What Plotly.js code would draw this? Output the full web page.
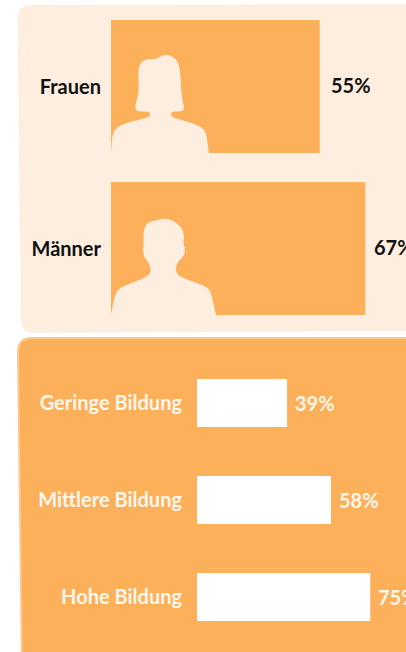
<!DOCTYPE html>
<html><head><meta charset="utf-8">
<script src="https://cdn.plot.ly/plotly-3.0.1.min.js"></script>
<style>html,body{margin:0;padding:0;background:#fff;overflow:hidden}#c{width:406px;height:652px}</style>
</head><body><div id="c"></div>
<script>
var genderCategories = ["Frauen", "Männer"];
var genderValues = [55, 67];
var educationCategories = ["Geringe Bildung", "Mittlere Bildung", "Hohe Bildung"];
var educationValues = [39, 58, 75];

var W = 406, H = 652;
var ORANGE = "#FDB05A", CREAM = "#FEEEDF";
var FONT = "Lato, 'Noto Sans', sans-serif";

function px(x){return (x/W).toFixed(5);}
function py(y){return (1-y/H).toFixed(5);}
function smooth(pts){
  var d = "M"+px(pts[0][0])+","+py(pts[0][1]);
  for(var i=1;i<pts.length-1;i++){
    var mx=(pts[i][0]+pts[i+1][0])/2, my=(pts[i][1]+pts[i+1][1])/2;
    if(i===pts.length-2){mx=pts[i+1][0];my=pts[i+1][1];}
    d+=" Q"+px(pts[i][0])+","+py(pts[i][1])+" "+px(mx)+","+py(my);
  }
  return d+" Z";
}
function raw(s){
  return s.replace(/(-?[\d.]+) (-?[\d.]+)/g,function(_,a,b){return px(+a)+","+py(+b);});
}
var womanOutline=[[111,153],[112,138],[114,130],[122,124],[148,117.5],[150,116],[150,111.5],[137,111.5],[135,108],[136,103],[139,92],[138,72],[140,63],[147,58.5],[155,60],[163,54.5],[173,56],[180,65],[181,90],[183,103],[184.5,109],[181,111.5],[171,111.5],[171,116],[173,117.5],[198,125],[205,130],[207,138],[209,153]];
var manOutline=[[111,315],[114,298],[118,289],[124,286],[147,277],[151,272],[150,266],[147,260],[144,257],[142.5,248],[144,245],[143,234],[146,223],[155,220.5],[166,218],[178,223],[184.5,233],[183,245],[185.5,248],[183.5,257],[179,260],[176,266],[176,272],[180,277],[205,286],[210,290],[212,297],[216,315]];

var shapes=[
 {type:"path",xref:"paper",yref:"paper",layer:"below",fillcolor:CREAM,line:{width:0},
  path:raw("M 32 5 L 420 4 L 420 331 L 34 333 Q 21 333 21 320 L 17.5 18 Q 17.5 5 32 5 Z")},
 {type:"path",xref:"paper",yref:"paper",layer:"below",fillcolor:ORANGE,line:{color:"#FDC78F",width:2},
  path:raw("M 32 338 L 420 338 L 420 670 L 22 670 L 18 352 Q 18 338 32 338 Z")},
 {type:"path",xref:"paper",yref:"paper",layer:"above",fillcolor:CREAM,line:{width:0},path:smooth(womanOutline)},
 {type:"path",xref:"paper",yref:"paper",layer:"above",fillcolor:CREAM,line:{width:0},path:smooth(manOutline)}
];

var traces=[
 {type:"bar",orientation:"h",x:genderValues,y:genderCategories,xaxis:"x",yaxis:"y",
  width:133/162,marker:{color:ORANGE,line:{width:0}},hoverinfo:"skip",showlegend:false},
 {type:"bar",orientation:"h",x:educationValues,y:educationCategories,xaxis:"x2",yaxis:"y2",
  width:48/97,marker:{color:"#FFFFFF",line:{width:0}},hoverinfo:"skip",showlegend:false}
];

var annotations=[];
genderCategories.forEach(function(c,i){
  annotations.push({xref:"x",yref:"y",x:genderValues[i],y:c,text:genderValues[i]+"%",showarrow:false,
    xanchor:"left",yanchor:"middle",xshift:i===0?9:7,yshift:2,align:"left",
    font:{family:FONT,size:20,color:"#111111",weight:700}});
});
educationCategories.forEach(function(c,i){
  annotations.push({xref:"x2",yref:"y2",x:educationValues[i],y:c,text:educationValues[i]+"%",showarrow:false,
    xanchor:"left",yanchor:"middle",xshift:6,yshift:0,align:"left",
    font:{family:FONT,size:20,color:"#FFF6EC",weight:700}});
});

var hidden={showgrid:false,zeroline:false,showline:false,showticklabels:false,ticks:""};
var layout={
 width:W,height:H,margin:{l:0,r:0,t:0,b:0,pad:0},
 paper_bgcolor:"#FFFFFF",plot_bgcolor:"rgba(0,0,0,0)",
 showlegend:false,shapes:shapes,annotations:annotations,
 xaxis:Object.assign({domain:[111/W,1],range:[0,295/3.795],anchor:"y"},hidden),
 xaxis2:Object.assign({domain:[197/W,1],range:[0,209/2.31],anchor:"y2"},hidden),
 yaxis:{domain:[1-329.5/H,1-5.5/H],type:"category",categoryorder:"array",categoryarray:genderCategories,
   range:[1.5,-0.5],anchor:"x",showgrid:false,zeroline:false,showline:false,ticks:"",ticklabelstandoff:9,
   tickfont:{family:FONT,size:20,color:"#111111",weight:700}},
 yaxis2:{domain:[1-645.5/H,1-354.5/H],type:"category",categoryorder:"array",categoryarray:educationCategories,
   range:[2.5,-0.5],anchor:"x2",showgrid:false,zeroline:false,showline:false,ticks:"",ticklabelstandoff:14,
   tickfont:{family:FONT,size:20,color:"#FFF6EC",weight:700}}
};
Plotly.newPlot("c",traces,layout,{displayModeBar:false,staticPlot:true});
</script></body></html>
